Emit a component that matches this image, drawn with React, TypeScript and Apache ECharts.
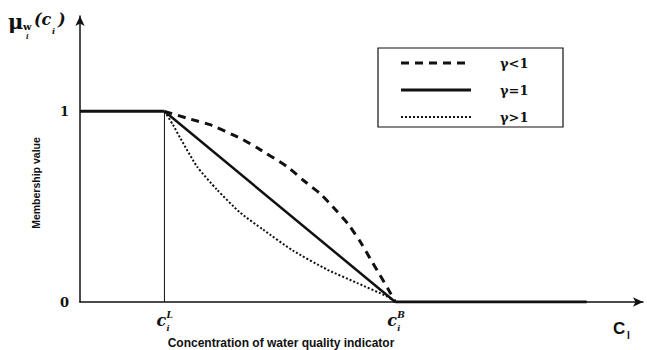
import React, { useEffect, useRef } from "react";
import * as echarts from "echarts";

// x in relative concentration units (0..100), y = membership value
const cLower = 15;
const cUpper = 56;
const tailEnd = 90;
const flatSegment: [number, number][] = [[0, 1], [cLower, 1]];
const verticalSegment: [number, number][] = [[cLower, 0], [cLower, 1]];
const gammaLessThanOne: [number, number][] = [
  [15, 1], [19.5, 0.96], [23.1, 0.93], [28.4, 0.86], [31.4, 0.81], [36.8, 0.71],
  [39.6, 0.64], [42.6, 0.57], [44.9, 0.5], [47.6, 0.41], [49.7, 0.32],
  [51.5, 0.23], [53.3, 0.14], [54.7, 0.07], [56, 0],
];
const gammaEqualOne: [number, number][] = [[15, 1], [56, 0]];
const gammaGreaterThanOne: [number, number][] = [
  [15, 1], [16.5, 0.93], [17.8, 0.86], [20.8, 0.71], [24.3, 0.59], [28.4, 0.47],
  [32.5, 0.38], [37.8, 0.27], [43.9, 0.17], [49.2, 0.1], [54.5, 0.03], [56, 0],
];
const tailSegment: [number, number][] = [[cUpper, 0], [tailEnd, 0]];
const yTickLabels = ["0", "1"];
const legendLabels = ["γ<1", "γ=1", "γ>1"];
const xTickLabels = [
  { value: cLower, sup: "L" },
  { value: cUpper, sup: "B" },
];

export default function App() {
  const ref = useRef<HTMLDivElement>(null);
  useEffect(() => {
    if (!ref.current) return;
    const chart = echarts.init(ref.current, null, { renderer: "svg" });
    const black = "#111";
    const lineSeries = (data: [number, number][], width: number, type: any, smooth: any = false) => ({
      type: "line",
      data,
      showSymbol: false,
      smooth,
      lineStyle: { color: black, width, type },
      silent: true,
    });
    chart.setOption({
      animation: false,
      backgroundColor: "#fff",
      grid: { left: 80, right: 4, top: 16, bottom: 48 },
      xAxis: {
        type: "value",
        min: 0,
        max: 100,
        axisLine: {
          show: true,
          symbol: ["none", "arrow"],
          symbolSize: [7, 10],
          lineStyle: { color: black, width: 1.5 },
        },
        axisTick: { show: false },
        axisLabel: { show: false },
        splitLine: { show: false },
      },
      yAxis: {
        type: "value",
        min: 0,
        max: 1.5,
        interval: 0.5,
        axisLine: {
          show: true,
          symbol: ["none", "arrow"],
          symbolSize: [7, 10],
          lineStyle: { color: black, width: 1.5 },
        },
        axisTick: { show: false },
        splitLine: { show: false },
        axisLabel: {
          margin: 11,
          color: black,
          fontFamily: "DejaVu Serif, serif",
          fontWeight: "bold",
          fontSize: 13,
          formatter: (v: number) => (yTickLabels.includes(String(v)) ? String(v) : ""),
        },
      },
      series: [
        lineSeries(flatSegment, 3, "solid"),
        lineSeries(verticalSegment, 1, "solid"),
        lineSeries(gammaLessThanOne, 3, [8, 6], 0.15),
        lineSeries(gammaEqualOne, 2.5, "solid"),
        lineSeries(gammaGreaterThanOne, 2, [2, 2], 0.2),
        lineSeries(tailSegment, 3, "solid"),
      ],
    });

    const px = (x: number, y: number) => chart.convertToPixel({ gridIndex: 0 }, [x, y]) as number[];
    const graphics: any[] = [];
    // x tick labels c_i^L and c_i^B
    xTickLabels.forEach((t) => {
      const p = px(t.value, 0);
      graphics.push(
        { type: "text", x: p[0] - 8, y: p[1] + 10, style: { text: "c", font: "italic bold 16px 'DejaVu Serif', serif", fill: black } },
        { type: "text", x: p[0] + 2, y: p[1] + 8, style: { text: t.sup, font: "italic bold 9px 'DejaVu Serif', serif", fill: black } },
        { type: "text", x: p[0] + 2, y: p[1] + 22, style: { text: "i", font: "italic bold 8px 'DejaVu Serif', serif", fill: black } }
      );
    });
    // legend box
    const legendY = [63, 90, 117];
    const legendTypes: any[] = [[8, 6], "solid", [2, 2]];
    const legendWidths = [3, 3, 2];
    graphics.push({
      type: "rect",
      shape: { x: 378, y: 48, width: 185, height: 79 },
      style: { fill: "none", stroke: black, lineWidth: 1.2 },
    });
    legendLabels.forEach((lab, i) => {
      graphics.push(
        {
          type: "line",
          shape: { x1: 401, y1: legendY[i], x2: 471, y2: legendY[i] },
          style: { stroke: black, lineWidth: legendWidths[i], lineDash: legendTypes[i] === "solid" ? null : legendTypes[i] },
        },
        {
          type: "text",
          x: 500,
          y: legendY[i],
          style: { text: lab, font: "bold 13px 'DejaVu Serif', serif", fill: black, verticalAlign: "middle" },
        }
      );
    });
    // y axis title mu_{w_i}(c_i)
    graphics.push(
      { type: "text", x: 8, y: 11, style: { text: "μ", font: "bold 21px 'DejaVu Serif', serif", fill: black } },
      { type: "text", x: 23, y: 21, style: { text: "w", font: "bold 10px 'DejaVu Serif', serif", fill: black } },
      { type: "text", x: 26, y: 33, style: { text: "i", font: "italic bold 7px 'DejaVu Serif', serif", fill: black } },
      { type: "text", x: 34, y: 11, style: { text: "(c", font: "italic bold 16px 'DejaVu Serif', serif", fill: black } },
      { type: "text", x: 52, y: 27, style: { text: "i", font: "italic bold 8px 'DejaVu Serif', serif", fill: black } },
      { type: "text", x: 58, y: 11, style: { text: ")", font: "italic bold 16px 'DejaVu Serif', serif", fill: black } }
    );
    // vertical axis name
    graphics.push({
      type: "text",
      x: 36,
      y: 183,
      rotation: Math.PI / 2,
      style: {
        text: "Membership value",
        font: "bold 10.5px 'Liberation Sans', Arial, sans-serif",
        fill: black,
        align: "center",
        verticalAlign: "middle",
      },
    });
    // horizontal axis name
    graphics.push({
      type: "text",
      x: 281,
      y: 343,
      style: {
        text: "Concentration of water quality indicator",
        font: "bold 12px 'Liberation Sans', Arial, sans-serif",
        fill: black,
        align: "center",
        verticalAlign: "middle",
      },
    });
    // C_I
    graphics.push(
      { type: "text", x: 613, y: 320, style: { text: "C", font: "bold 17px 'Liberation Sans', Arial, sans-serif", fill: black } },
      { type: "text", x: 627, y: 330, style: { text: "I", font: "bold 10px 'Liberation Sans', Arial, sans-serif", fill: black } }
    );
    chart.setOption({ graphic: graphics });
    return () => chart.dispose();
  }, []);
  return <div ref={ref} style={{ width: 647, height: 350, position: "absolute", left: 0, top: 0 }} />;
}
